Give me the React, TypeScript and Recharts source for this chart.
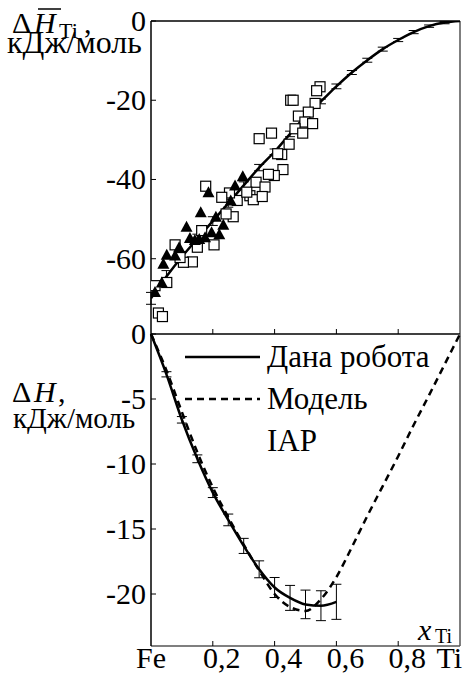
import { ComposedChart, Line, Scatter, XAxis, YAxis, ErrorBar, ReferenceLine, Legend } from 'recharts';

const FONT =
  "'Liberation Serif', 'DejaVu Serif', 'Noto Serif', Tinos, 'Times New Roman', Times, 'Nimbus Roman', FreeSerif, serif";

// x ticks (shared)
const xTicks = [0, 0.2, 0.4, 0.6, 0.8, 1];
const xTickLabels = ['Fe', '0,2', '0,4', '0,6', '0,8', 'Ti'];

// top panel: partial enthalpy of Ti
const topTicks = [-60, -40, -20, 0];
const topLineX = [0, 0.05, 0.1, 0.15, 0.2, 0.25, 0.3, 0.35, 0.4, 0.45, 0.5, 0.55, 0.6, 0.65, 0.7, 0.75, 0.8, 0.85, 0.9, 0.95, 1];
const topLineY = [-70, -64.5, -59.5, -55, -50.5, -46, -41.5, -37, -33, -28.5, -24, -20.3, -16.5, -13, -9.9, -7.1, -4.8, -2.8, -1.3, -0.4, 0];
const topErr = [1.5, 1.5, 1.3, 1.2, 1.1, 1.0, 0.9, 0.8, 0.7, 0.7, 0.6, 0.6, 0.6, 0.5, 0.5, 0.5, 0.4, 0.4, 0.3, 0.3, 0];

const squareX = [0.452, 0.46, 0.547, 0.536, 0.531, 0.509, 0.477, 0.498, 0.523, 0.466, 0.491, 0.35, 0.39, 0.447, 0.423, 0.41, 0.427, 0.399, 0.38, 0.34, 0.369, 0.32, 0.331, 0.36, 0.279, 0.31, 0.254, 0.229, 0.177, 0.266, 0.243, 0.164, 0.204, 0.15, 0.134, 0.105, 0.078, 0.094, 0.051, 0.013, 0.024, 0.037];
const squareY = [-20, -20, -16.6, -17.6, -20.8, -23, -24, -25.5, -25.9, -27.2, -28.3, -29.7, -28.3, -31.1, -33.7, -33.5, -37.5, -39, -38.7, -40.7, -41.9, -44.1, -45.1, -44.3, -45.3, -43.2, -43.4, -44.5, -41.7, -49.4, -48.7, -52.9, -56.5, -57.1, -60.8, -60.9, -56.5, -59.7, -66, -66.8, -73.7, -74.6];

const triX = [0.013, 0.035, 0.04, 0.051, 0.078, 0.091, 0.115, 0.126, 0.142, 0.156, 0.161, 0.186, 0.175, 0.196, 0.21, 0.221, 0.234, 0.258, 0.272, 0.297];
const triY = [-68.4, -66, -61.3, -59, -59.2, -57.1, -51.9, -54.8, -55.3, -55, -48.3, -43.2, -54.6, -53.3, -49.4, -53.8, -51.4, -45.3, -41.5, -39.2];

// bottom panel: integral enthalpy of mixing
const bottomTicks = [-20, -15, -10, -5, 0];
const bottomX = [0, 0.05, 0.1, 0.15, 0.2, 0.25, 0.3, 0.35, 0.4, 0.45, 0.5, 0.55, 0.6, 0.65, 0.7, 0.75, 0.8, 0.85, 0.9, 0.95, 1];
const thisWorkY = [0, -3.1, -6.6, -9.6, -12.2, -14.3, -16.3, -18.1, -19.5, -20.3, -20.8, -20.9, -20.6];
const thisWorkErr = [0, 0.2, 0.25, 0.3, 0.38, 0.45, 0.58, 0.65, 0.77, 0.96, 1.1, 1.15, 1.35];
const iapY = [0, -2.8, -6.0, -9.1, -11.8, -14.1, -16.2, -18.2, -20.0, -21.0, -21.3, -20.4, -18.7, -16.4, -14.0, -11.7, -9.4, -7.0, -4.7, -2.35, 0];

const seriesNames = ['Дана робота', 'Модель\nIAP'];

const topLine = topLineX.map((x, i) => ({ x, y: topLineY[i], err: topErr[i] }));
const squares = squareX.map((x, i) => ({ x, y: squareY[i] }));
const triangles = triX.map((x, i) => ({ x, y: triY[i] }));
const thisWork = thisWorkY.map((y, i) => ({ x: bottomX[i], y, err: thisWorkErr[i] }));
const iap = bottomX.map((x, i) => ({ x, y: iapY[i] }));

const txt = { fontFamily: FONT };

const YTick = ({ x, y, payload }: any) => (
  <g>
    <line x1={x} x2={x + 5} y1={y} y2={y} stroke="#000" />
    <text x={x - 5} y={y} dy={10} textAnchor="end" fontSize={30} style={txt} fill="#000">
      {payload.value}
    </text>
  </g>
);

const InnerXTick = ({ x, y, payload }: any) =>
  payload.value > 0 && payload.value < 1 ? <line x1={x} x2={x} y1={y} y2={y - 5} stroke="#000" /> : <g />;

const LabelXTick = ({ x, y, payload, index }: any) => {
  const last = payload.value === 1;
  return (
    <g>
      {payload.value > 0 && !last && <line x1={x} x2={x} y1={y} y2={y - 5} stroke="#000" />}
      <text
        x={last ? x + 2 : payload.value === 0 ? x : x + 9}
        y={y + 22}
        textAnchor={last ? 'end' : 'middle'}
        fontSize={30}
        style={txt}
        fill="#000"
      >
        {xTickLabels[index]}
      </text>
    </g>
  );
};

const Square = ({ cx, cy }: any) => (
  <rect x={cx - 5} y={cy - 5} width={10} height={10} fill="#fff" stroke="#000" strokeWidth={1.2} />
);
const Triangle = ({ cx, cy }: any) => (
  <path d={`M${cx},${cy - 6}L${cx + 6},${cy + 5}L${cx - 6},${cy + 5}Z`} fill="#000" />
);

const LegendBox = () => (
  <div style={{ fontFamily: FONT, fontSize: 31, color: '#000' }}>
    {seriesNames.map((name, i) => (
      <div key={name} style={{ display: 'flex', alignItems: 'flex-start' }}>
        <svg width={75} height={42} style={{ flex: 'none' }}>
          <line x1={0} x2={75} y1={21} y2={21} stroke="#000" strokeWidth={2.5} strokeDasharray={i === 1 ? '7 5' : undefined} />
        </svg>
        <div style={{ marginLeft: 7, lineHeight: '42px', whiteSpace: 'pre-line' }}>{name}</div>
      </div>
    ))}
  </div>
);

export default function App() {
  return (
    <div style={{ position: 'absolute', left: 0, top: 0, width: 475, height: 682, background: '#fff' }}>
      <div style={{ position: 'absolute', left: 0, top: 0 }}>
        <ComposedChart width={475} height={340} margin={{ top: 21, right: 15, bottom: 5, left: 150 }}>
          <XAxis
            type="number"
            dataKey="x"
            domain={[0, 1]}
            ticks={xTicks}
            height={1}
            tickSize={0}
            tickMargin={0}
            tick={<InnerXTick />}
            axisLine={{ stroke: '#000', strokeWidth: 1.5 }}
            allowDataOverflow
          />
          <YAxis
            type="number"
            dataKey="y"
            domain={[-79, 0]}
            ticks={topTicks}
            width={1}
            tickSize={0}
            tickMargin={0}
            tick={<YTick />}
            axisLine={{ stroke: '#000', strokeWidth: 1.5 }}
            allowDataOverflow
          />
          <ReferenceLine y={0} stroke="#000" strokeWidth={1.5} />
          <ReferenceLine x={1} stroke="#555" strokeWidth={1.5} />
          <Scatter data={squares} shape={<Square />} isAnimationActive={false} />
          <Scatter data={triangles} shape={<Triangle />} isAnimationActive={false} />
          <Line
            data={topLine}
            dataKey="y"
            type="monotone"
            stroke="#000"
            strokeWidth={2.5}
            dot={false}
            isAnimationActive={false}
          >
            <ErrorBar dataKey="err" width={5} stroke="#000" strokeWidth={1} />
          </Line>
        </ComposedChart>
      </div>
      <div style={{ position: 'absolute', left: 0, top: 300 }}>
        <ComposedChart width={475} height={382} margin={{ top: 34, right: 15, bottom: 6, left: 150 }}>
          <XAxis
            type="number"
            dataKey="x"
            domain={[0, 1]}
            ticks={xTicks}
            height={30}
            tickSize={0}
            tickMargin={0}
            tick={<LabelXTick />}
            axisLine={{ stroke: '#555', strokeWidth: 1.5 }}
          />
          <YAxis
            type="number"
            dataKey="y"
            domain={[-24, 0]}
            ticks={bottomTicks}
            width={1}
            tickSize={0}
            tickMargin={0}
            tick={<YTick />}
            axisLine={{ stroke: '#000', strokeWidth: 1.5 }}
          />
          <ReferenceLine x={1} stroke="#555" strokeWidth={1.5} />
          <Legend
            layout="vertical"
            align="center"
            verticalAlign="middle"
            wrapperStyle={{ top: 36, left: 185, width: 'auto' }}
            content={<LegendBox />}
          />
          <Line
            data={iap}
            dataKey="y"
            name={seriesNames[1]}
            type="monotone"
            stroke="#000"
            strokeWidth={2.5}
            strokeDasharray="7 5"
            dot={false}
            isAnimationActive={false}
          />
          <Line
            data={thisWork}
            dataKey="y"
            name={seriesNames[0]}
            type="monotone"
            stroke="#000"
            strokeWidth={2.5}
            dot={false}
            isAnimationActive={false}
          >
            <ErrorBar dataKey="err" width={5} stroke="#000" strokeWidth={1} />
          </Line>
        </ComposedChart>
      </div>
      <svg
        width={475}
        height={682}
        style={{ position: 'absolute', left: 0, top: 0, pointerEvents: 'none', fontFamily: FONT }}
        fill="#000"
      >
        {/* top y title: ΔH̄Ti , */}
        <text x={12} y={33} fontSize={30}>Δ</text>
        <text x={34} y={33} fontSize={30} fontStyle="italic">H</text>
        <line x1={38} x2={61} y1={9} y2={9} stroke="#000" strokeWidth={1.5} />
        <text x={59} y={38} fontSize={22}>Ti</text>
        <text x={84} y={33} fontSize={30}>,</text>
        <text x={7} y={53} fontSize={32}>кДж/моль</text>
        {/* bottom y title: ΔH, */}
        <text x={12} y={402} fontSize={30}>Δ</text>
        <text x={34} y={402} fontSize={30} fontStyle="italic">H</text>
        <text x={58} y={402} fontSize={30}>,</text>
        <text x={13} y={428} fontSize={29}>кДж/моль</text>
        {/* x title */}
        <text x={418} y={640} fontSize={30} fontStyle="italic">x</text>
        <text x={435} y={643} fontSize={20}>Ti</text>
      </svg>
    </div>
  );
}
